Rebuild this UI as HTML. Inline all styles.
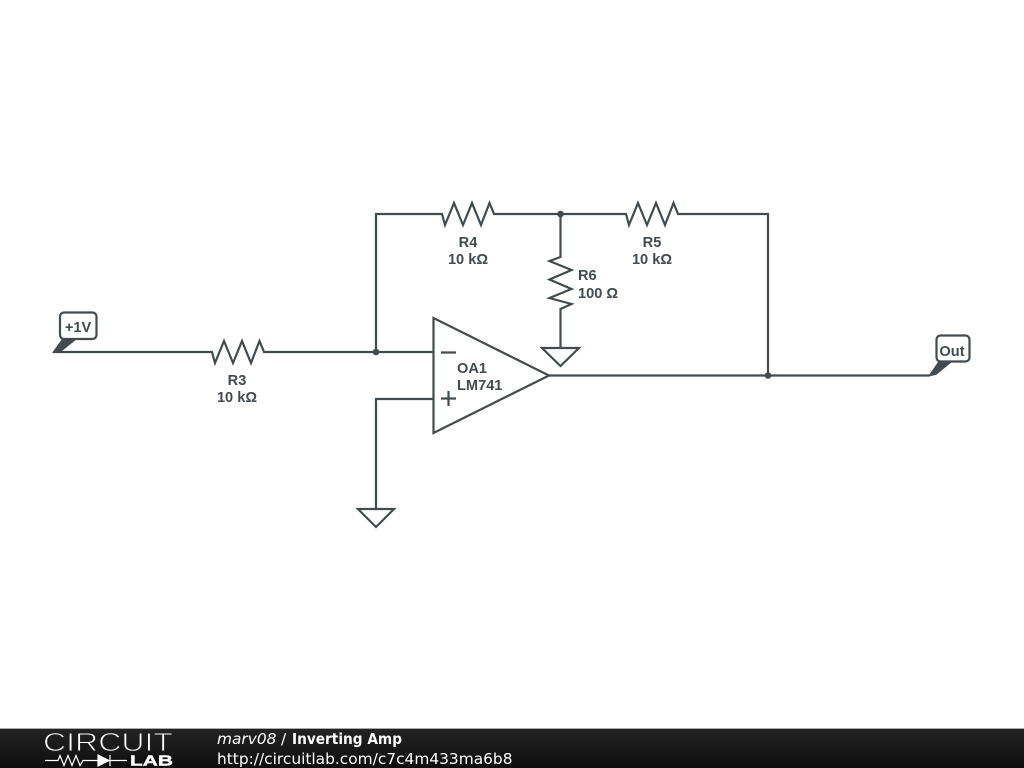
<!DOCTYPE html>
<html><head><meta charset="utf-8"><style>
html,body{margin:0;padding:0;background:#fff;width:1024px;height:768px;overflow:hidden}
svg{display:block}
.l{font-family:"Liberation Sans",sans-serif;font-weight:bold;font-size:14.6px;fill:#444b4f;text-anchor:middle}
.s{font-family:"Liberation Sans",sans-serif;font-weight:bold;font-size:14.6px;fill:#444b4f}
.f{font-family:"DejaVu Sans",sans-serif;font-size:15.4px;fill:#fff}
</style></head><body>
<svg width="1024" height="768" viewBox="0 0 1024 768" xmlns="http://www.w3.org/2000/svg">
<defs><linearGradient id="g" x1="0" y1="0" x2="0" y2="1"><stop offset="0" stop-color="#232323"/><stop offset="1" stop-color="#0e0e0e"/></linearGradient></defs>
<rect width="1024" height="768" fill="#fff"/>
<g fill="none" stroke="#444b4f" stroke-width="2.200" stroke-linejoin="miter">
<path d="M53 352H212l3 11 9-22 9 22 9-22 9 22 8.500-22 4.500 11H433.500"/>
<path d="M376 352V214H442l3 11 9-22 9 22 9-22 9 22 8.500-22 4.500 11H626l3 11 9-22 9 22 9-22 9 22 8.500-22 4.500 11H768V375.500"/>
<path d="M560.500 214V257l-11 4 22 9-22 9.500 22 9.500-22 9 22 6-11 5V348"/>
<path d="M542 348H579L560.500 366Z"/>
<path d="M376 509V399H433.500"/>
<path d="M358 509H394L376 527Z"/>
<path d="M433.500 318V433L549 375.500Z"/>
<path d="M549 375.500H930"/>
<path d="M441 352.500H456M441 398.500H456M448.500 391V406"/>
<rect x="60" y="312.500" width="36.500" height="26.500" rx="4" fill="#fff"/>
<rect x="936.500" y="335.500" width="33" height="26" rx="4" fill="#fff"/>
</g>
<g fill="#444b4f">
<circle cx="376" cy="352" r="3.300"/><circle cx="560.500" cy="214" r="3.300"/><circle cx="768" cy="375.500" r="3.300"/>
<path d="M52 353L62 339H77L62 351Z"/>
<path d="M928 376.500L938 362H952L936 375Z"/>
</g>
<text class="l" x="237" y="385">R3</text><text class="l" x="237" y="402">10 kΩ</text>
<text class="l" x="468" y="247">R4</text><text class="l" x="468" y="264">10 kΩ</text>
<text class="l" x="652" y="247">R5</text><text class="l" x="652" y="264">10 kΩ</text>
<text class="s" x="578" y="280">R6</text><text class="s" x="578" y="298">100 Ω</text>
<text class="s" x="457" y="373">OA1</text><text class="s" x="457" y="390">LM741</text>
<text class="l" x="78" y="332">+1V</text>
<text class="l" x="952" y="356">Out</text>
<rect y="729" width="1024" height="39" fill="url(#g)"/>
<rect y="728" width="1024" height="1" fill="#aaa"/>
<text x="43" y="751" font-family="Liberation Sans,sans-serif" font-size="25.500" fill="#fff" stroke="#1c1c1c" stroke-width=".9" textLength="130" lengthAdjust="spacingAndGlyphs">CIRCUIT</text>
<path d="M45 760.500H58l2-5 4 10 4-10 4 10 4-10 4 10 3-5H127" fill="none" stroke="#fff" stroke-width="1.200"/>
<path d="M98 755L109 760.500 98 766ZM110 755V766" fill="#fff" stroke="#fff" stroke-width="1.200"/>
<text x="130" y="765.500" font-family="Liberation Sans,sans-serif" font-weight="bold" font-size="14.500" fill="#fff" stroke="#fff" stroke-width=".4" textLength="43" lengthAdjust="spacingAndGlyphs">LAB</text>
<text class="f" x="217" y="744" font-style="italic">marv08</text>
<text class="f" x="281" y="744">/</text>
<text class="f" x="292" y="744" font-weight="bold" textLength="110" lengthAdjust="spacingAndGlyphs">Inverting Amp</text>
<text class="f" x="217" y="764">http://circuitlab.com/c7c4m433ma6b8</text>
</svg>
</body></html>
